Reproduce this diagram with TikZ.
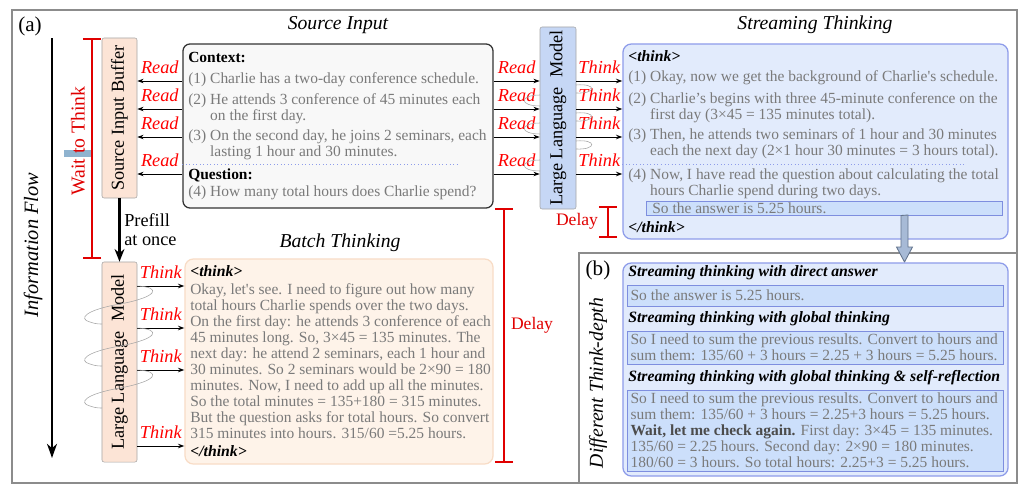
\documentclass[tikz,border=0pt]{standalone}
\usepackage{fontspec}
\setmainfont{Liberation Serif}
\usepackage{xcolor}
\usepackage{graphicx}
\usepackage{tikz}
\usetikzlibrary{arrows.meta, positioning}
\definecolor{PeachFill}{HTML}{FCE4D6}
\definecolor{PeachSoft}{HTML}{FEF3E9}
\definecolor{PeachEdge}{HTML}{F8DCC6}
\definecolor{LLMBlue}{HTML}{C6D7F5}
\definecolor{StreamFill}{HTML}{E2EBFC}
\definecolor{StreamEdge}{HTML}{8E9CEA}
\definecolor{AnsFill}{HTML}{CCDFFB}
\definecolor{AnsEdge}{HTML}{7E8EDF}
\definecolor{SrcFill}{HTML}{F8F8F8}
\definecolor{TxtGray}{HTML}{7A7A7A}
\definecolor{FrameGray}{HTML}{8C8C8C}
\definecolor{BoxGray}{HTML}{A6A6A6}
\definecolor{MarkRed}{HTML}{FF0000}
\definecolor{BarRed}{HTML}{E00000}
\definecolor{FlowBlue}{HTML}{A7BAD6}
\definecolor{FlowEdge}{HTML}{62738C}
\definecolor{HiBlue}{HTML}{8FB3CF}

\begin{document}
\begin{tikzpicture}[x=0.025cm, y=-0.025cm,
  panel/.style={draw=FrameGray, line width=1pt},
  model/.style={rectangle, rounded corners=1.5pt, draw=BoxGray, fill=PeachFill,
    minimum width=0.875cm, inner sep=0pt, font=\fontsize{13}{15}\selectfont},
  srcbox/.style={rectangle, rounded corners=5pt, draw=black!80, fill=SrcFill,
    line width=0.9pt, minimum width=7.75cm, minimum height=4.1cm},
  strbox/.style={rectangle, rounded corners=6pt, draw=StreamEdge, fill=StreamFill,
    line width=0.9pt, minimum width=9.625cm},
  batbox/.style={rectangle, rounded corners=6pt, draw=PeachEdge, fill=PeachSoft,
    line width=0.9pt, minimum width=7.7cm, minimum height=5.125cm},
  ansbox/.style={rectangle, draw=AnsEdge, fill=AnsFill, line width=0.7pt,
    minimum width=9.375cm, inner sep=0pt},
  txt/.style={inner sep=0pt, anchor=west, align=left, text=TxtGray,
    font=\fontsize{11}{11.4}\selectfont},
  hd/.style={inner sep=0pt, anchor=west, font=\fontsize{11}{12}\selectfont\bfseries},
  tag/.style={inner sep=0pt, anchor=west, font=\fontsize{11.2}{12}\selectfont\bfseries\itshape},
  title/.style={font=\fontsize{14}{16}\selectfont\itshape},
  act/.style={text=MarkRed, font=\fontsize{13}{14}\selectfont\itshape, inner sep=1pt},
  wire/.style={-{Stealth[length=4.5pt, width=3.2pt]}, line width=0.7pt},
  push/.style={-{Stealth[length=9pt, width=7pt]}, line width=1.5pt},
  coil/.style={draw=gray!70, line width=0.4pt},
  bracket/.style={draw=BarRed, line width=1.2pt, {Bar[width=13pt]}-{Bar[width=13pt]}},
  gap/.style={draw=StreamEdge, dotted, line width=0.5pt}
]
\useasboundingbox (0,0) rectangle (1026,493);
\draw[panel] (12,10) rectangle (1017,483);
\draw[panel, fill=white] (579,253) rectangle (1017,483);

\node[font=\fontsize{15}{16}\selectfont] (tagA) at (30,26) {(a)};
\draw[line width=1.6pt, -{Stealth[length=10pt, width=7pt, inset=3pt]}] (52,38) -- (52,458);
\node[rotate=90, font=\fontsize{14.5}{16}\selectfont\itshape] (flow) at (33,245) {Information Flow};

\fill[HiBlue] (64,150) rectangle (92,157);
\draw[bracket] (92,38) -- (92,259);
\node[rotate=90, text=BarRed, font=\fontsize{14}{16}\selectfont] (wait) at (78,141) {Wait to Think};

\node[model, minimum height=4cm] (buf) at (119.5,118) {\rotatebox{90}{Source Input Buffer}};
\node[model, minimum height=5cm] (bllm) at (119.5,362) {\rotatebox{90}{Large Language~ Model}};
\node[model, fill=LLMBlue, minimum width=0.9cm, minimum height=4.55cm] (sllm) at (558,118)
  {\rotatebox{90}{Large Language~ Model}};

\draw[push] (buf) -- (bllm);
\node[anchor=west, align=left, inner sep=0pt, font=\fontsize{13}{13.5}\selectfont] (prefill)
  at (124,229.5) {Prefill\\at once};

\node[title] (srcT) at (338,25) {Source Input};
\node[title] (strT) at (815,25) {Streaming Thinking};
\node[title] (batT) at (340,243) {Batch Thinking};

\node[srcbox] (src) at (338,126) {};
\node[hd] (ctx) at (188,57) {Context:};
\node[txt] (s1) at (188,80) {(1) Charlie has a two-day conference schedule.};
\node[txt] (s2) at (188,109) {(2) He attends 3 conference of 45 minutes each\\\phantom{(2) }on the first day.};
\node[txt] (s3) at (188,145) {(3) On the second day, he joins 2 seminars, each\\\phantom{(3) }lasting 1 hour and 30 minutes.};
\draw[gap] (src.west |- 0,164) -- (458,164);
\node[hd] (qst) at (188,175) {Question:};
\node[txt] (s4) at (188,193) {(4) How many total hours does Charlie spend?};

\node[strbox, minimum height=4.875cm] (str) at (815.5,141.5) {};
\node[tag] (o1) at (628,56) {<think>};
\node[txt] (r1) at (628,78) {(1) Okay, now we get the background of Charlie\textquotesingle s schedule.};
\node[txt] (r2) at (628,108) {(2) Charlie’s begins with three 45-minute conference on the\\\phantom{(2) }first day (3×45 = 135 minutes total).};
\node[txt] (r3) at (628,144) {(3) Then, he attends two seminars of 1 hour and 30 minutes\\\phantom{(3) }each the next day (2×1 hour 30 minutes = 3 hours total).};
\draw[gap] (str.west |- 0,164) -- (966,164);
\node[txt] (r4) at (628,184) {(4) Now, I have read the question about calculating the total\\\phantom{(4) }hours Charlie spend during two days.};
\node[ansbox, minimum width=8.875cm, minimum height=0.35cm] (ans) at (824.5,208) {};
\node[txt, xshift=4pt] (anst) at (ans.west) {So the answer is 5.25 hours.};
\node[tag] (c1) at (628,227) {</think>};

\node[batbox] (bat) at (339,361.5) {};
\node[tag] (o2) at (190,271) {<think>};
\node[txt] (bt) at (190,361.5) {Okay, let\textquotesingle s see. I need to figure out how many\\
total hours Charlie spends over the two days.\\
On the first day: he attends 3 conference of each\\
45 minutes long. So, 3×45 = 135 minutes. The\\
next day: he attend 2 seminars, each 1 hour and\\
30 minutes. So 2 seminars would be 2×90 = 180\\
minutes. Now, I need to add up all the minutes.\\
So the total minutes = 135+180 = 315 minutes.\\
But the question asks for total hours. So convert\\
315 minutes into hours. 315/60 =5.25 hours.};
\node[tag] (c2) at (190,451) {</think>};

\foreach \y in {81,109,137,174}{
  \draw[wire] (src.west |- 0,\y) -- (buf.east |- 0,\y) node[act, midway, above=4pt] {Read};
  \draw[wire] (src.east |- 0,\y) -- (sllm.west |- 0,\y) node[act, midway, above=4pt] {Read};
  \draw[wire] (sllm.east |- 0,\y) -- (str.west |- 0,\y) node[act, midway, above=4pt] {Think};
}
\foreach \y in {286,328,370,446}
  \draw[wire] (bllm.east |- 0,\y) -- (bat.west |- 0,\y) node[act, midway, above=4pt] {Think};

\foreach \y in {286,328,370}
  \draw[coil] (137,\y) .. controls (162,\y+1) and (158,\y+11) .. (120,\y+18)
    .. controls (85,\y+24) and (78,\y+33) .. (90,\y+36)
    .. controls (95,\y+38) and (100,\y+38) .. (102,\y+38);
\foreach \y in {81,109,137}
  \draw[coil] (576,\y+4) .. controls (597,\y+2) and (597,\y+13) .. (576,\y+12);
\foreach \y in {109,137,174}
  \draw[coil] (540,\y-14) .. controls (519,\y-14) and (519,\y-3) .. (540,\y-3);

\draw[bracket] (608,206) -- (608,238);
\node[text=BarRed, font=\fontsize{12.5}{14}\selectfont] (dl1) at (577,221) {Delay};
\draw[bracket] (504,208) -- (504,463);
\node[text=BarRed, font=\fontsize{12.5}{14}\selectfont] (dl2) at (532,325) {Delay};

\draw[fill=FlowBlue, draw=FlowEdge, line width=0.6pt] (ans.south -| 901,0) -- (908,215) -- (908,247)
  -- (912.5,247) -- (904.5,262) -- (896.5,247) -- (901,247) -- cycle;

\node[font=\fontsize{15}{16}\selectfont] (tagB) at (598,270) {(b)};
\node[rotate=90, title] (depth) at (598,383) {Different Think-depth};
\node[strbox, minimum height=5.325cm] (dep) at (815.5,369.5) {};
\node[tag] (h1) at (628,273) {Streaming thinking with direct answer};
\node[ansbox, minimum height=0.525cm] (b1) at (815.5,295.5) {};
\node[txt, xshift=2pt] (b1t) at (b1.west) {So the answer is 5.25 hours.};
\node[tag] (h2) at (628,319) {Streaming thinking with global thinking};
\node[ansbox, minimum height=0.825cm] (b2) at (815.5,347.5) {};
\node[txt, xshift=2pt] (b2t) at (b2.west) {So I need to sum the previous results. Convert to hours and\\
sum them: 135/60 + 3 hours = 2.25 + 3 hours = 5.25 hours.};
\node[tag] (h3) at (628,378) {Streaming thinking with global thinking \& self-reflection};
\node[ansbox, minimum height=2.025cm] (b3) at (815.5,430.5) {};
\node[txt, xshift=2pt] (b3t) at (b3.west) {So I need to sum the previous results. Convert to hours and\\
sum them: 135/60 + 3 hours = 2.25+3 hours = 5.25 hours.\\
\textcolor{black!70}{\bfseries Wait, let me check again.} First day: 3×45 = 135 minutes.\\
135/60 = 2.25 hours. Second day: 2×90 = 180 minutes.\\
180/60 = 3 hours. So total hours: 2.25+3 = 5.25 hours.};
\end{tikzpicture}
\end{document}
